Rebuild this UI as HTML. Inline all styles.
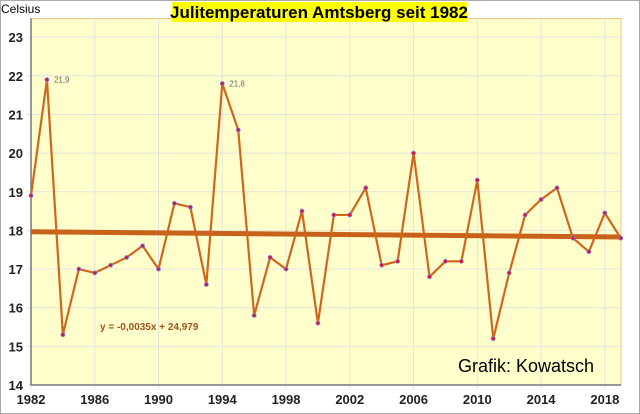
<!DOCTYPE html>
<html><head><meta charset="utf-8"><style>
body{margin:0;background:#fff;}
svg{display:block;font-family:"Liberation Sans",Arial,sans-serif;}
</style></head><body>
<svg id="chart" width="640" height="414" viewBox="0 0 640 414">
<rect x="0.5" y="0.5" width="639" height="413" fill="#fff" stroke="#aaa"/>
<rect x="31" y="18.5" width="590" height="366.5" fill="#ffffcc" stroke="#f0c090" stroke-width="1"/>
<g id="grid"></g><g id="axes"></g><g id="series"></g>
<rect x="172" y="2" width="295" height="20" fill="#ffff00"/>
<text x="319" y="18" text-anchor="middle" font-size="17" font-weight="bold" fill="#000">Julitemperaturen Amtsberg seit 1982</text>
<text x="1" y="13" font-size="12" fill="#000">Celsius</text>
<text x="100" y="330" font-size="10" font-weight="bold" fill="#a0521e">y = -0,0035x + 24,979</text>
<text x="458" y="372" font-size="18" fill="#000">Grafik: Kowatsch</text>
</svg>
<script>
const years=[1982,1983,1984,1985,1986,1987,1988,1989,1990,1991,1992,1993,1994,1995,1996,1997,1998,1999,2000,2001,2002,2003,2004,2005,2006,2007,2008,2009,2010,2011,2012,2013,2014,2015,2016,2017,2018,2019];
const temps=[18.9,21.9,15.3,17.0,16.9,17.1,17.3,17.6,17.0,18.7,18.6,16.6,21.8,20.6,15.8,17.3,17.0,18.5,15.6,18.4,18.4,19.1,17.1,17.2,20.0,16.8,17.2,17.2,19.3,15.2,16.9,18.4,18.8,19.1,17.8,17.45,18.45,17.8];
const yTicks=[14,15,16,17,18,19,20,21,22,23];
const xTicks=[1982,1986,1990,1994,1998,2002,2006,2010,2014,2018];
const labelled=[[1983,"21,9"],[1994,"21,8"]];
const NS="http://www.w3.org/2000/svg";
const X=v=>31+(v-1982)*15.94;
const Y=v=>385-(v-14)*38.65;
function mk(p,t,a){const e=document.createElementNS(NS,t);for(const k in a)e.setAttribute(k,a[k]);p.appendChild(e);return e;}
const grid=document.getElementById('grid'),axes=document.getElementById('axes'),ser=document.getElementById('series');
yTicks.forEach(v=>{
 const l=mk(grid,'line',{x1:27,x2:621,y1:Y(v),y2:Y(v),stroke:'#e4e4dc','stroke-width':1});
 
 
 const t=mk(axes,'text',{x:23,y:Y(v)+5,'text-anchor':'end','font-size':13,'font-weight':'bold',fill:'#222'});
 t.textContent=v;
 
 
});
xTicks.forEach(v=>{
 const l=mk(grid,'line',{x1:X(v),x2:X(v),y1:18.5,y2:389,stroke:'#e4e4dc','stroke-width':1});
 
 
 const t=mk(axes,'text',{x:X(v),y:404,'text-anchor':'middle','font-size':13,'font-weight':'bold',fill:'#222'});
 t.textContent=v;
 
 
});
const ax=mk(axes,'path',{d:`M31 18.5V385H621`,fill:'none',stroke:'#777','stroke-width':1.5});


const n=years.length,mx=years.reduce((a,b)=>a+b)/n,my=temps.reduce((a,b)=>a+b)/n;
let sxy=0,sxx=0;years.forEach((x,i)=>{sxy+=(x-mx)*(temps[i]-my);sxx+=(x-mx)**2;});
const sl=sxy/sxx,ic=my-sl*mx;
const tr=mk(ser,'line',{x1:X(1982),y1:Y(sl*1982+ic),x2:X(2019),y2:Y(sl*2019+ic),stroke:'#c8621a','stroke-width':5});


const pl=mk(ser,'polyline',{points:years.map((y,i)=>X(y)+','+Y(temps[i])).join(' '),fill:'none',stroke:'#d0661c','stroke-width':2.2});


years.forEach((y,i)=>{
 const c=mk(ser,'circle',{cx:X(y),cy:Y(temps[i]),r:2,fill:'#e0103a',stroke:'#7090e0','stroke-width':0.8});
 
 
});
labelled.forEach(([y,s])=>{
 const t=mk(ser,'text',{x:X(y)+7,y:Y(temps[years.indexOf(y)])+3,'font-size':8,fill:'#666'});
 t.textContent=s;
 
 
});
</script>
</body></html>
